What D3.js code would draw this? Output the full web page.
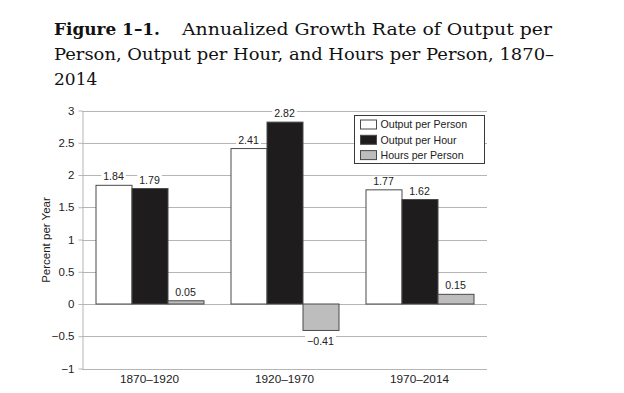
<!DOCTYPE html>
<html>
<head>
<meta charset="utf-8">
<script src="https://cdn.jsdelivr.net/npm/d3@7"></script>
<style>
  html, body { margin: 0; padding: 0; background: #fff; }
  svg { display: block; }
</style>
</head>
<body>
<svg id="chart" width="624" height="393"></svg>
<script>
const categories = ["1870–1920", "1920–1970", "1970–2014"];
const seriesNames = ["Output per Person", "Output per Hour", "Hours per Person"];
const outputPerPerson = [1.84, 2.41, 1.77];
const outputPerHour = [1.79, 2.82, 1.62];
const hoursPerPerson = [0.05, -0.41, 0.15];
const yTicks = [-1, -0.5, 0, 0.5, 1, 1.5, 2, 2.5, 3];
const seriesColors = ["#ffffff", "#1f1c1d", "#bdbdbd"];

const seriesValues = [outputPerPerson, outputPerHour, hoursPerPerson];
const rows = [];
categories.forEach((c, ci) => {
  seriesNames.forEach((s, si) => {
    rows.push({ cat: c, series: s, si: si, value: seriesValues[si][ci] });
  });
});

const svg = d3.select("#chart");
svg.append("rect").attr("width", 624).attr("height", 393).attr("fill", "#fff");

// Title
const serif = "'DejaVu Serif', serif";
const title = svg.append("g").attr("fill", "#111").style("font-family", serif).style("font-size", "17px");
title.append("text").attr("x", 54).attr("y", 35).style("font-weight", "bold")
  .attr("textLength", 106).attr("lengthAdjust", "spacingAndGlyphs").text("Figure 1–1.");
title.append("text").attr("x", 182).attr("y", 35)
  .attr("textLength", 370).attr("lengthAdjust", "spacingAndGlyphs").text("Annualized Growth Rate of Output per");
title.append("text").attr("x", 54).attr("y", 60)
  .attr("textLength", 500).attr("lengthAdjust", "spacingAndGlyphs").text("Person, Output per Hour, and Hours per Person, 1870–");
title.append("text").attr("x", 54).attr("y", 85).text("2014");

// Scales
const plotLeft = 82, plotRight = 487;
const x = d3.scaleBand().domain(categories).range([plotLeft, plotRight]).paddingInner(0.2).paddingOuter(0.1);
const xs = d3.scaleBand().domain(seriesNames).range([0, x.bandwidth()]);
const y = d3.scaleLinear().domain([-1, 3]).range([368.5, 110.5]);
const color = d3.scaleOrdinal().domain(seriesNames).range(seriesColors);

const sans = "'Liberation Sans', Arial, sans-serif";

// Gridlines
svg.append("g").selectAll("line").data(yTicks).join("line")
  .attr("x1", plotLeft).attr("x2", plotRight)
  .attr("y1", d => Math.round(y(d)) + 0.5).attr("y2", d => Math.round(y(d)) + 0.5)
  .attr("stroke", "#b5b5b5").attr("stroke-width", 1);

// Y axis
const fmt = d3.format("");
const yAxis = svg.append("g").attr("transform", `translate(${plotLeft + 0.5},0)`)
  .call(d3.axisLeft(y).tickValues(yTicks).tickSize(4).tickSizeOuter(0).tickPadding(4).tickFormat(fmt));
yAxis.select(".domain").attr("stroke", "#b5b5b5");
yAxis.selectAll(".tick line").attr("stroke", "#b5b5b5");
yAxis.selectAll("text").style("font-family", sans).style("font-size", "11.5px").attr("fill", "#222");

// X axis labels
const xAxis = svg.append("g").attr("transform", `translate(0,${y(-1)})`)
  .call(d3.axisBottom(x).tickSize(0).tickPadding(6));
xAxis.select(".domain").remove();
xAxis.selectAll("text").style("font-family", sans).style("font-size", "11.8px").attr("fill", "#222");

// Y axis title
svg.append("text").attr("transform", `translate(46,240) rotate(-90)`)
  .attr("text-anchor", "middle").attr("dy", "0.35em")
  .style("font-family", sans).style("font-size", "11.5px").attr("fill", "#222")
  .text("Percent per Year");

// Bars
svg.append("g").selectAll("rect").data(rows).join("rect")
  .attr("x", d => x(d.cat) + xs(d.series) + 0.5)
  .attr("width", xs.bandwidth())
  .attr("y", d => Math.min(y(d.value), y(0)))
  .attr("height", d => Math.abs(y(d.value) - y(0)))
  .attr("fill", d => color(d.series))
  .attr("stroke", "#4a4a4a").attr("stroke-width", 1);

// Value labels with white background
const labels = svg.append("g");
rows.forEach(d => {
  const cx = x(d.cat) + xs(d.series) + xs.bandwidth() / 2;
  const yy = d.value >= 0 ? y(d.value) - 5 : y(d.value) + 14.5;
  const g = labels.append("g");
  const bg = g.append("rect").attr("fill", "#fff");
  const t = g.append("text").attr("x", cx).attr("y", yy).attr("text-anchor", "middle")
    .style("font-family", sans).style("font-size", "10.6px").attr("fill", "#222")
    .text(fmt(d.value));
  const bb = t.node().getBBox();
  bg.attr("x", bb.x - 2).attr("y", bb.y + 1).attr("width", bb.width + 4).attr("height", bb.height - 2);
});

// Legend
const legend = svg.append("g").attr("transform", "translate(354.5,115.5)");
legend.append("rect").attr("width", 130).attr("height", 48).attr("fill", "#fff").attr("stroke", "#3a3a3a");
seriesNames.forEach((s, i) => {
  const row = legend.append("g").attr("transform", `translate(6,${9 + i * 15.3})`);
  row.append("rect").attr("x", 0).attr("y", -4.5).attr("width", 16).attr("height", 9)
    .attr("fill", color(s)).attr("stroke", "#4a4a4a");
  row.append("text").attr("x", 20).attr("y", 0).attr("dy", "0.35em")
    .style("font-family", sans).style("font-size", "10.6px").attr("fill", "#222").text(s);
});
</script>
</body>
</html>
